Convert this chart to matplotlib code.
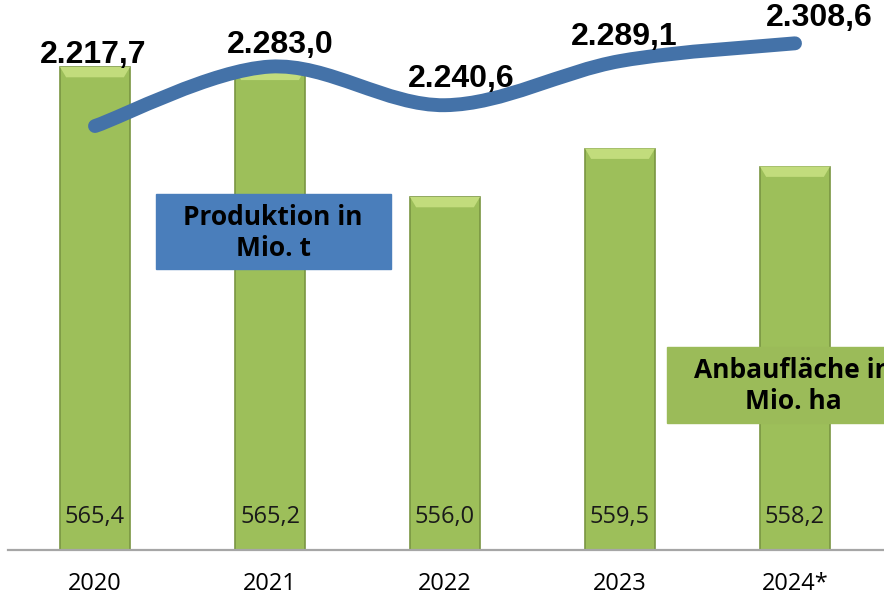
import matplotlib
matplotlib.use('Agg')
import matplotlib.pyplot as plt
from matplotlib.path import Path
from matplotlib.patches import PathPatch, Polygon

years = ['2020', '2021', '2022', '2023', '2024*']
flaeche = [565.4, 565.2, 556.0, 559.5, 558.2]        # Anbaufläche in Mio. ha
produktion = [2217.7, 2283.0, 2240.6, 2289.1, 2308.6]  # Produktion in Mio. t


def de(v):
    '''German number format: 2.217,7'''
    s = f'{v:,.1f}'
    return s.replace(',', 'X').replace('.', ',').replace('X', '.')


def smooth_path(xs, ys):
    '''Bezier path through the points, like a smoothed Excel line'''
    pts = list(zip(xs, ys))
    verts = [pts[0]]
    codes = [Path.MOVETO]
    n = len(pts)
    for i in range(n - 1):
        p0 = pts[i - 1] if i > 0 else pts[i]
        p1 = pts[i]
        p2 = pts[i + 1]
        p3 = pts[i + 2] if i + 2 < n else pts[i + 1]
        c1 = (p1[0] + (p2[0] - p0[0]) / 6, p1[1] + (p2[1] - p0[1]) / 6)
        c2 = (p2[0] - (p3[0] - p1[0]) / 6, p2[1] - (p3[1] - p1[1]) / 6)
        verts += [c1, c2, p2]
        codes += [Path.CURVE4] * 3
    return Path(verts, codes)


fig = plt.figure(figsize=(8.84, 6.0), dpi=100)
ax = fig.add_axes([7.5 / 884, 50 / 600, 875 / 884, 550 / 600])
x = list(range(len(years)))
base = 530.47
w = 0.4

# bars
ax.bar(x, [v - base for v in flaeche], bottom=base, width=w,
       color='#9dbf5a', edgecolor='#7a9642', linewidth=1.2, zorder=2)
# bevel on top of each bar
bh, bi = 0.75, 0.035
for xi, v in zip(x, flaeche):
    ax.add_patch(Polygon([(xi - w / 2, v), (xi + w / 2, v),
                          (xi + w / 2 - bi, v - bh), (xi - w / 2 + bi, v - bh)],
                         closed=True, facecolor='#c2dc7c', edgecolor='none', zorder=3))
ax.set_xlim(-0.5, 4.5)
ax.set_ylim(base, 570.24)
for xi, v in zip(x, flaeche):
    ax.text(xi, 532.85, de(v), ha='center', va='center', fontsize=17,
            family='Open Sans', color='#1a1a1a', zorder=4)

ax.set_xticks(x)
ax.set_xticklabels(years, fontsize=17, family='Open Sans')
ax.tick_params(axis='x', length=0, pad=16)
ax.set_yticks([])
for s in ['left', 'right', 'top']:
    ax.spines[s].set_visible(False)
ax.spines['bottom'].set_color('#a6a6a6')
ax.spines['bottom'].set_linewidth(1.6)

# line on secondary axis
ax2 = ax.twinx()
ax2.set_ylim(1751.8, 2356.2)
ax2.set_yticks([])
for s in ax2.spines.values():
    s.set_visible(False)
ax2.add_patch(PathPatch(smooth_path(x, produktion), facecolor='none',
                        edgecolor='#4472a8', linewidth=10, capstyle='round',
                        joinstyle='round', zorder=5))

offsets = [(-2, 56), (10, 7), (16, 11), (4, 9), (24, 10)]
for xi, v, (dx, dy) in zip(x, produktion, offsets):
    ax2.annotate(de(v), (xi, v), xytext=(dx * 0.72, dy * 0.72),
                 textcoords='offset points', ha='center', va='bottom',
                 fontsize=23, fontweight='bold', family='Liberation Sans',
                 zorder=7)

# legend-like boxes
fig.patches.append(plt.Rectangle((156 / 884, 1 - 269 / 600), 235 / 884, 75 / 600,
                                 transform=fig.transFigure, color='#4a7ebb', zorder=6))
fig.text(273 / 884, 1 - 233 / 600, 'Produktion in\nMio. t', ha='center', va='center',
         fontsize=19, fontweight='bold', family='Open Sans', linespacing=1.15, zorder=7)
fig.patches.append(plt.Rectangle((667 / 884, 1 - 423 / 600), 260 / 884, 76 / 600,
                                 transform=fig.transFigure, color='#9bbb59', zorder=6))
fig.text(793 / 884, 1 - 386 / 600, 'Anbaufläche in\nMio. ha', ha='center', va='center',
         fontsize=19, fontweight='bold', family='Open Sans', linespacing=1.15, zorder=7)

fig.savefig('out.png', dpi=100)
